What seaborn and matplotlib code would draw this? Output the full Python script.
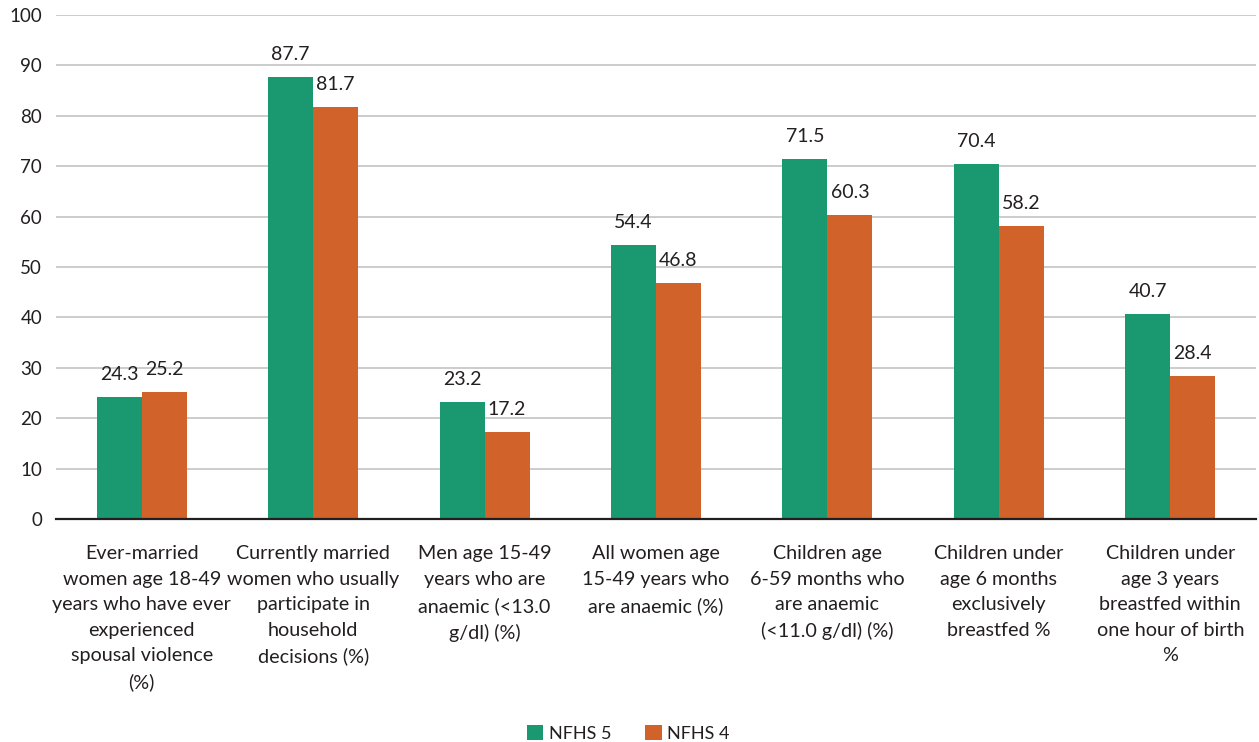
import matplotlib
matplotlib.use("Agg")
import matplotlib.pyplot as plt
import seaborn as sns
import pandas as pd
from matplotlib.patches import Patch

categories = [
    "Ever-married\nwomen age 18-49\nyears who have ever\nexperienced\nspousal violence\n(%)",
    "Currently married\nwomen who usually\nparticipate in\nhousehold\ndecisions (%)",
    "Men age 15-49\nyears who are\nanaemic (<13.0\ng/dl) (%)",
    "All women age\n15-49 years who\nare anaemic (%)",
    "Children age\n6-59 months who\nare anaemic\n(<11.0 g/dl) (%)",
    "Children under\nage 6 months\nexclusively\nbreastfed %",
    "Children under\nage 3 years\nbreastfed within\none hour of birth\n%",
]
nfhs5 = [24.3, 87.7, 23.2, 54.4, 71.5, 70.4, 40.7]
nfhs4 = [25.2, 81.7, 17.2, 46.8, 60.3, 58.2, 28.4]
series = ["NFHS 5", "NFHS 4"]
colors = ["#1a9970", "#d0622a"]
text_color = "#231f20"

df = pd.DataFrame({
    "category": categories * 2,
    "survey": [series[0]] * len(categories) + [series[1]] * len(categories),
    "value": nfhs5 + nfhs4,
})

sns.set_theme(style="white")
plt.rcParams["font.family"] = ["Lato", "DejaVu Sans"]

fig = plt.figure(figsize=(12.59, 7.42), dpi=100)
ax = fig.add_axes([0.0445, 0.3005, 0.9531, 0.6793])

sns.barplot(data=df, x="category", y="value", hue="survey",
            palette=colors, width=0.525, gap=0, saturation=1,
            edgecolor="none", linewidth=0, legend=False, ax=ax)

ax.set_ylim(0, 100)
ax.set_xlim(-0.5, len(categories) - 0.5)
ax.set_yticks(range(0, 101, 10))
ax.yaxis.grid(True, color="#c4c4c4", linewidth=1.2)
ax.set_axisbelow(True)
for side in ["left", "right", "top"]:
    ax.spines[side].set_visible(False)
ax.spines["bottom"].set_color(text_color)
ax.spines["bottom"].set_linewidth(1.6)
ax.set_xlabel("")
ax.set_ylabel("")
ax.tick_params(axis="y", length=0, pad=10, labelsize=13.5, labelcolor=text_color)
ax.tick_params(axis="x", length=0, pad=19, labelsize=14.2, labelcolor=text_color)
for lbl in ax.get_xticklabels():
    lbl.set_linespacing(1.6)

for container in ax.containers:
    ax.bar_label(container, fmt="%.1f", padding=10, fontsize=14, color=text_color)

handles = [Patch(facecolor=c, edgecolor="none") for c in colors]
fig.legend(handles, series, loc="lower center", bbox_to_anchor=(0.499, -0.022),
           ncol=2, frameon=False, fontsize=13, handlelength=0.9, handleheight=0.9,
           handletextpad=0.3, columnspacing=1.9, labelcolor=text_color)

fig.savefig("out.png", dpi=100)
